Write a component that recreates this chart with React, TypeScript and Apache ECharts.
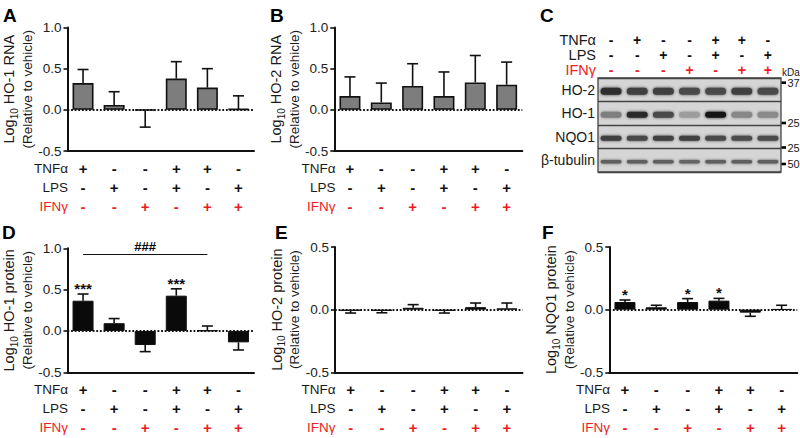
import React, { useEffect, useRef } from 'react';
import * as echarts from 'echarts';

// ---------- data ----------
const CATEGORIES = ['T', 'L', 'I', 'TL', 'TI', 'LI'];
const TREATMENTS = ['TNFα', 'LPS', 'IFNγ'];
const TNF_ROW = ['+', '-', '-', '+', '+', '-'];
const LPS_ROW = ['-', '+', '-', '+', '-', '+'];
const IFN_ROW = ['-', '-', '+', '-', '+', '+'];

const HO1_RNA_MEAN = [0.325, 0.06, -0.005, 0.38, 0.27, 0.01];
const HO1_RNA_SEM = [0.165, 0.16, 0.205, 0.205, 0.23, 0.16];

const HO2_RNA_MEAN = [0.167, 0.09, 0.29, 0.167, 0.333, 0.305];
const HO2_RNA_SEM = [0.233, 0.235, 0.27, 0.293, 0.327, 0.275];

const HO1_PROT_MEAN = [0.366, 0.094, -0.17, 0.427, 0.005, -0.138];
const HO1_PROT_SEM = [0.081, 0.056, 0.08, 0.083, 0.055, 0.092];
const HO1_PROT_STARS = ['***', '', '', '***', '', ''];
const HO1_PROT_SIG = { from: 'T', to: 'TI', y: 0.927, label: '###' };

const HO2_PROT_MEAN = [-0.01, -0.01, 0.015, -0.01, 0.02, 0.01];
const HO2_PROT_SEM = [0.017, 0.015, 0.025, 0.017, 0.033, 0.043];

const NQO1_PROT_MEAN = [0.061, 0.019, 0.061, 0.072, -0.024, 0.003];
const NQO1_PROT_SEM = [0.016, 0.016, 0.027, 0.018, 0.029, 0.032];
const NQO1_PROT_STARS = ['*', '', '*', '*', '', ''];

// western blot (panel C)
const LANES = ['1', '2', '3', '4', '5', '6', '7'];
const C_TNF = ['-', '+', '-', '-', '+', '+', '-'];
const C_LPS = ['-', '-', '+', '-', '+', '-', '+'];
const C_IFN = ['-', '-', '-', '+', '-', '+', '+'];
const BLOT_ROWS = ['HO-2', 'HO-1', 'NQO1', 'β-tubulin'];
const BAND_HO2 = [0.86, 0.76, 0.76, 0.72, 0.72, 0.76, 0.72];
const BAND_HO1 = [0.42, 0.88, 0.72, 0.26, 0.98, 0.38, 0.36];
const BAND_NQO1 = [0.76, 0.73, 0.76, 0.76, 0.72, 0.7, 0.7];
const BAND_TUB = [0.6, 0.6, 0.6, 0.56, 0.6, 0.6, 0.6];
const MW_LABELS = ['37', '25', '25', '50'];

// ---------- styles ----------
const FONT = 'Liberation Sans, Arial, Helvetica, sans-serif';
const INK = '#111111';
const RED = '#ee1c25';
const BAND_HEIGHT = [7, 6, 5, 3.5];
const MW_Y = [82.7, 123, 147.5, 164];

type PanelCfg = {
  letter: string;
  letterX: number;
  letterY: number;
  grid: { left: number; top: number; width: number; height: number };
  yMin: number;
  yMax: number;
  mean: number[];
  sem: number[];
  stars?: string[];
  sig?: { from: string; to: string; y: number; label: string };
  gray: boolean;
  title: string;
  nameGap: number;
  rowLabelX: number;
};

const PANELS: PanelCfg[] = [
  {
    letter: 'A', letterX: 3, letterY: 15,
    grid: { left: 67.5, top: 27.5, width: 186.5, height: 123.5 },
    yMin: -0.5, yMax: 1.0, mean: HO1_RNA_MEAN, sem: HO1_RNA_SEM, gray: true,
    title: 'HO-1 RNA', nameGap: 27, rowLabelX: 68,
  },
  {
    letter: 'B', letterX: 270, letterY: 15,
    grid: { left: 334.3, top: 27.5, width: 188, height: 123.5 },
    yMin: -0.5, yMax: 1.0, mean: HO2_RNA_MEAN, sem: HO2_RNA_SEM, gray: true,
    title: 'HO-2 RNA', nameGap: 22.5, rowLabelX: 335.5,
  },
  {
    letter: 'D', letterX: 2, letterY: 232,
    grid: { left: 67.5, top: 248.3, width: 186.5, height: 124 },
    yMin: -0.5, yMax: 1.0, mean: HO1_PROT_MEAN, sem: HO1_PROT_SEM, gray: false,
    stars: HO1_PROT_STARS, sig: HO1_PROT_SIG,
    title: 'HO-1 protein', nameGap: 26.5, rowLabelX: 68,
  },
  {
    letter: 'E', letterX: 275, letterY: 232,
    grid: { left: 335, top: 247, width: 187.5, height: 125.3 },
    yMin: -0.5, yMax: 0.5, mean: HO2_PROT_MEAN, sem: HO2_PROT_SEM, gray: false,
    title: 'HO-2 protein', nameGap: 21.5, rowLabelX: 335.5,
  },
  {
    letter: 'F', letterX: 542, letterY: 232,
    grid: { left: 609.3, top: 247, width: 188, height: 125.3 },
    yMin: -0.5, yMax: 0.5, mean: NQO1_PROT_MEAN, sem: NQO1_PROT_SEM, gray: false,
    stars: NQO1_PROT_STARS,
    title: 'NQO1 protein', nameGap: 22.5, rowLabelX: 610,
  },
];

const BLOT_GRID = { left: 598, top: 78, width: 183, height: 94 };

function txt(
  x: number, y: number, text: string, size: number, fill: string,
  align: string, weight: string = 'normal',
) {
  return {
    type: 'text', x, y,
    style: {
      text, fill, fontSize: size, fontFamily: FONT, fontWeight: weight,
      align, textAlign: align, verticalAlign: 'middle', textVerticalAlign: 'middle',
    },
  };
}

function buildOption() {
  const grid: any[] = [];
  const xAxis: any[] = [];
  const yAxis: any[] = [];
  const series: any[] = [];
  const graphic: any[] = [];

  const symRich = (fs: number, lh: number) => ({
    k: { fontSize: fs, fontWeight: 'bold', color: INK, lineHeight: lh, fontFamily: FONT },
    r: { fontSize: fs, fontWeight: 'bold', color: RED, lineHeight: lh, fontFamily: FONT },
  });

  PANELS.forEach((p, i) => {
    grid.push({ ...p.grid });
    xAxis.push({
      type: 'category',
      gridIndex: i,
      data: CATEGORIES,
      axisLine: { onZero: false, lineStyle: { color: INK, width: 2 } },
      axisTick: { alignWithLabel: true, length: 5, lineStyle: { color: INK, width: 2 } },
      axisLabel: {
        interval: 0,
        margin: 8,
        formatter: (_v: string, idx: number) =>
          `{k|${TNF_ROW[idx]}}\n{k|${LPS_ROW[idx]}}\n{r|${IFN_ROW[idx]}}`,
        rich: symRich(15, 18.8),
      },
    });
    yAxis.push({
      type: 'value',
      gridIndex: i,
      min: p.yMin,
      max: p.yMax,
      interval: 0.5,
      name: `{a|Log}{s|10}{a| ${p.title}}\n{b|(Relative to vehicle)}`,
      nameLocation: 'middle',
      nameRotate: 90,
      nameGap: p.nameGap,
      nameTextStyle: {
        color: '#1a1a1a',
        fontFamily: FONT,
        rich: {
          a: { fontSize: 14.5, fontFamily: FONT, color: '#1a1a1a', lineHeight: 20, verticalAlign: 'middle' },
          s: { fontSize: 10, fontFamily: FONT, color: '#1a1a1a', lineHeight: 9, verticalAlign: 'bottom' },
          b: { fontSize: 13.5, fontFamily: FONT, color: '#1a1a1a', lineHeight: 16 },
        },
      },
      axisLine: { show: true, lineStyle: { color: INK, width: 2 } },
      axisTick: { show: true, length: 4, lineStyle: { color: INK, width: 1.6 } },
      splitLine: { show: false },
      axisLabel: {
        formatter: (v: number) => v.toFixed(1),
        fontSize: 13.5,
        color: '#222',
        fontFamily: FONT,
        margin: 6,
      },
    });

    const markData: any[] = [
      { yAxis: 0, lineStyle: { type: 'dotted', color: INK, width: 1.8 }, label: { show: false } },
    ];
    if (p.sig) {
      markData.push([
        {
          coord: [p.sig.from, p.sig.y],
          lineStyle: { type: 'solid', color: INK, width: 1.2 },
          label: {
            show: true,
            position: 'middle',
            formatter: p.sig.label,
            color: '#000',
            fontSize: 13,
            fontWeight: 'bold',
            fontFamily: FONT,
            distance: 1,
          },
        },
        { coord: [p.sig.to, p.sig.y] },
      ]);
    }

    series.push({
      type: 'bar',
      xAxisIndex: i,
      yAxisIndex: i,
      data: p.mean,
      barWidth: 21,
      itemStyle: p.gray
        ? { color: '#7d7d7d', borderColor: INK, borderWidth: 1.6 }
        : { color: '#0a0a0a', borderColor: INK, borderWidth: 1 },
      markLine: { silent: true, symbol: 'none', data: markData },
      z: 2,
    });

    const stars = p.stars;
    series.push({
      type: 'custom',
      xAxisIndex: i,
      yAxisIndex: i,
      data: p.mean.map((m, j) => [j, m, m + (m < 0 ? -1 : 1) * p.sem[j]]),
      z: 3,
      renderItem: (params: any, api: any) => {
        const a = api.coord([api.value(0), api.value(1)]);
        const e = api.coord([api.value(0), api.value(2)]);
        const cap = 5.5;
        const children: any[] = [
          { type: 'line', shape: { x1: a[0], y1: a[1], x2: e[0], y2: e[1] }, style: { stroke: INK, lineWidth: 1.6 } },
          { type: 'line', shape: { x1: e[0] - cap, y1: e[1], x2: e[0] + cap, y2: e[1] }, style: { stroke: INK, lineWidth: 1.6 } },
        ];
        const s = stars ? stars[params.dataIndex] : '';
        if (s) {
          children.push({
            type: 'text',
            x: e[0],
            y: e[1] + 2,
            style: {
              text: s,
              fill: INK,
              fontSize: 15,
              fontWeight: 'bold',
              fontFamily: FONT,
              align: 'center',
              textAlign: 'center',
              verticalAlign: 'bottom',
              textVerticalAlign: 'bottom',
            },
          });
        }
        return { type: 'group', children };
      },
    });

    // panel letter
    graphic.push(txt(p.letterX, p.letterY, p.letter, 19, '#000', 'left', 'bold'));
    // treatment row names
    const axisY = p.grid.top + p.grid.height;
    TREATMENTS.forEach((t, r) => {
      graphic.push(txt(p.rowLabelX, axisY + 8 + 9.4 + r * 18.8, t, 13.5, r === 2 ? RED : '#1a1a1a', 'right'));
    });
  });

  // ---------- panel C: western blot ----------
  const bi = PANELS.length;
  grid.push({ ...BLOT_GRID, show: true, backgroundColor: '#d5d5d5', borderColor: '#444', borderWidth: 1.3 });
  xAxis.push({
    type: 'category', gridIndex: bi, data: LANES, position: 'top',
    axisLine: { show: false }, axisTick: { show: false },
    axisLabel: {
      interval: 0, margin: 1,
      formatter: (_v: string, idx: number) => `{k|${C_TNF[idx]}}\n{k|${C_LPS[idx]}}\n{r|${C_IFN[idx]}}`,
      rich: symRich(14, 15),
    },
  });
  yAxis.push({
    type: 'category', gridIndex: bi, data: BLOT_ROWS, inverse: true,
    axisLine: { show: false }, axisTick: { show: false },
    splitLine: { show: true, lineStyle: { color: '#444', width: 1.3 } },
    axisLabel: { fontSize: 14, color: '#1a1a1a', fontFamily: FONT, margin: 3 },
  });
  const bands = [BAND_HO2, BAND_HO1, BAND_NQO1, BAND_TUB];
  const blotData: number[][] = [];
  bands.forEach((row, r) => row.forEach((v, l) => blotData.push([l, r, v])));
  series.push({
    type: 'custom', xAxisIndex: bi, yAxisIndex: bi, data: blotData, z: 2,
    renderItem: (_params: any, api: any) => {
      const r = api.value(1);
      const c = api.coord([api.value(0), r]);
      const w = api.size([1, 0])[0] * 0.8;
      const h = BAND_HEIGHT[r];
      const g = Math.round(205 - api.value(2) * 185);
      const col = `rgb(${g},${g},${g})`;
      return {
        type: 'rect',
        shape: { x: c[0] - w / 2, y: c[1] + 1.5 - h / 2, width: w, height: h, r: h / 2 },
        style: { fill: col, shadowBlur: 3, shadowColor: col },
      };
    },
  });

  // treatment labels for C
  TREATMENTS.forEach((t, r) => {
    graphic.push(txt(596, 39.5 + r * 15, t, 14.5, r === 2 ? RED : '#1a1a1a', 'right'));
  });
  graphic.push(txt(540, 15, 'C', 19, '#000', 'left', 'bold'));
  graphic.push(txt(782, 72, 'kDa', 10, '#1a1a1a', 'left'));
  MW_LABELS.forEach((m, k) => {
    graphic.push({ type: 'rect', shape: { x: 781.5, y: MW_Y[k] - 1.3, width: 4.5, height: 2.6 }, style: { fill: '#000' } });
    graphic.push(txt(787.5, MW_Y[k], m, 11, '#1a1a1a', 'left'));
  });

  return {
    animation: false,
    backgroundColor: '#ffffff',
    textStyle: { fontFamily: FONT },
    grid,
    xAxis,
    yAxis,
    series,
    graphic,
  };
}

export default function App() {
  const ref = useRef<HTMLDivElement>(null);
  useEffect(() => {
    if (!ref.current) return;
    const chart = echarts.init(ref.current, undefined, { renderer: 'svg' });
    chart.setOption(buildOption() as any);
    return () => chart.dispose();
  }, []);
  return <div ref={ref} style={{ position: 'absolute', left: 0, top: 0, width: 800, height: 438 }} />;
}
